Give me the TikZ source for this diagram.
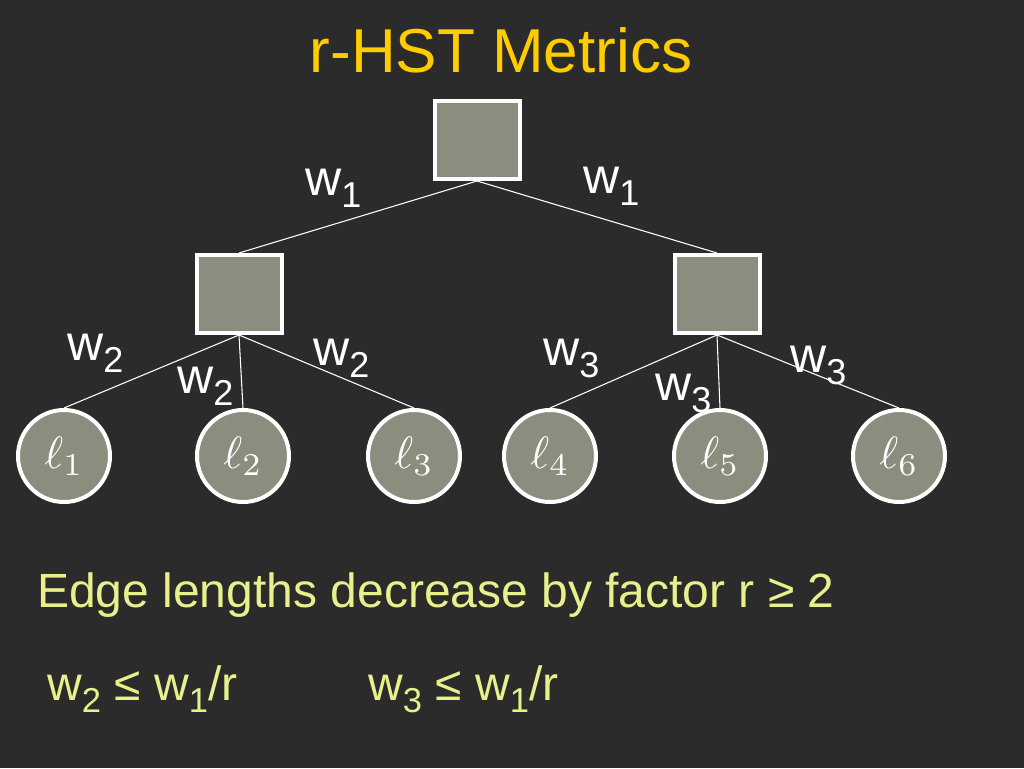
\RequirePackage{fix-cm}
\documentclass[tikz,border=0pt]{standalone}
\usepackage{fontspec}
\setmainfont{Liberation Sans}
\usetikzlibrary{positioning}
\definecolor{bgDark}{HTML}{2B2B2B}
\definecolor{tYellow}{HTML}{FFCC00}
\definecolor{tLime}{HTML}{E8F08C}
\definecolor{nGray}{HTML}{8C8C7F}
\newcommand{\sbs}[1]{\raisebox{-0.25em}{\scalebox{0.72}{#1}}}
\tikzset{
  sqnode/.style={draw=white, line width=3pt, fill=nGray, minimum width=63.75pt,
    minimum height=58.5pt, inner sep=0pt},
  leaf/.style={circle, draw=white, line width=3pt, fill=nGray, minimum size=69pt,
    inner sep=0pt, text=white},
  wlbl/.style={anchor=base west, inner sep=0pt, text=white, font=\fontsize{37.5}{45}\selectfont},
  bodytxt/.style={anchor=base west, inner sep=0pt, text=tLime, font=\fontsize{36}{43}\selectfont},
  treeline/.style={draw=white, line width=0.8pt}
}

\begin{document}
\begin{tikzpicture}[x=0.75pt, y=-0.75pt]
      \fill[bgDark] (0,0) rectangle (1024,768);
      \node[anchor=base, inner sep=0pt, text=tYellow, font=\fontsize{46.5}{56}\selectfont] (title) at (501,72) {r-HST Metrics};
      % tree
      \node[sqnode] (root) at (477,140) {};
      \node[sqnode] (mL) at (239,294) {};
      \node[sqnode] (mR) at (717,294) {};
      \foreach \i/\x in {1/64, 2/243, 3/414, 4/550, 5/720, 6/899}
        \node[leaf] (l\i) at (\x,456) {\scalebox{3.4}{$\ell_{\i}$}};
      \draw[treeline] (root.south) -- (mL.north);
      \draw[treeline] (root.south) -- (mR.north);
      \foreach \i in {1,2,3} \draw[treeline] (mL.south) -- (l\i.north);
      \foreach \i in {4,5,6} \draw[treeline] (mR.south) -- (l\i.north);
      % edge weights
      \foreach \x/\y/\k in {305/195/1, 583/193/1, 67/360/2, 177/393/2, 313/365/2,
        543/365/3, 655/400/3, 790/372/3}
        \node[wlbl] (w\k-\x) at (\x,\y) {w\sbs{\k}};
      % text below
      \node[bodytxt] (rule) at (37,607) {Edge lengths decrease by factor r ≥ 2};
      \node[bodytxt] (ineqA) at (47,700) {w\sbs{2} ≤ w\sbs{1}/r};
      \node[bodytxt] (ineqB) at (368,700) {w\sbs{3} ≤ w\sbs{1}/r};
    \end{tikzpicture}
\end{document}
